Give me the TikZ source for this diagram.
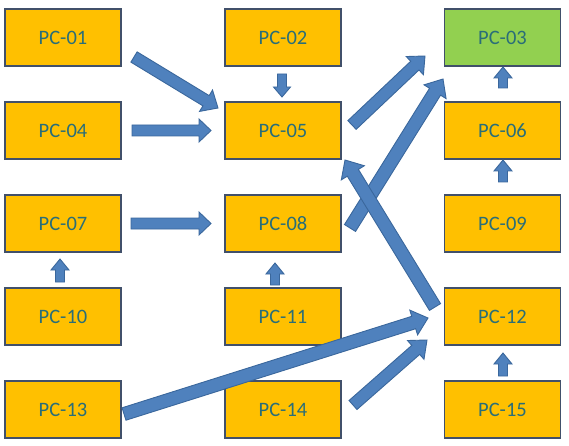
\documentclass[tikz,border=0pt]{standalone}
\usepackage{fontspec}
\setmainfont{Carlito}
\usetikzlibrary{calc}
\definecolor{boxfill}{HTML}{FFC000}
\definecolor{greenfill}{HTML}{92D050}
\definecolor{boxline}{HTML}{41506A}
\definecolor{txt}{HTML}{2A6E78}
\definecolor{arrfill}{HTML}{4F81BD}
\definecolor{arrline}{HTML}{3A679C}
\tikzset{
  pcbox/.style={draw=boxline, fill=boxfill, line width=1.5pt, minimum width=116pt, minimum height=57pt, inner sep=0pt, text=txt, font=\fontsize{20.5}{22}\selectfont},
  greenbox/.style={pcbox, fill=greenfill},
  blockarr/.style={fill=arrfill, draw=arrline, line width=0.9pt, line join=miter}
}
% #1 tail, #2 tip, #3 shaft half width, #4 head half width, #5 head length
\newcommand\blockarrow[5]{%
  \coordinate (ba-h) at ($(#2)!#5!(#1)$);
  \filldraw[blockarr] ($(#1)!#3!90:(#2)$) -- ($(ba-h)!#3!-90:(#1)$) -- ($(ba-h)!#4!-90:(#1)$) -- (#2) -- ($(ba-h)!#4!90:(#1)$) -- ($(ba-h)!#3!90:(#1)$) -- ($(#1)!#3!-90:(#2)$) -- cycle;
}
\begin{document}
\begin{tikzpicture}[x=1pt,y=-1pt]
\useasboundingbox (0,0) rectangle (569,446);
% boxes
\node[pcbox]    (n01) at (63,37.5)   {PC-01};
\node[pcbox]    (n02) at (283,37.5)  {PC-02};
\node[greenbox] (n03) at (502.5,37.5) {PC-03};
\node[pcbox]    (n04) at (63,130.5)  {PC-04};
\node[pcbox]    (n05) at (283,130.5) {PC-05};
\node[pcbox]    (n06) at (502.5,130.5) {PC-06};
\node[pcbox]    (n07) at (63,223.5)  {PC-07};
\node[pcbox]    (n08) at (283,223.5) {PC-08};
\node[pcbox]    (n09) at (502.5,223.5) {PC-09};
\node[pcbox]    (n10) at (63,316.5)  {PC-10};
\node[pcbox]    (n11) at (283,316.5) {PC-11};
\node[pcbox]    (n12) at (502.5,316.5) {PC-12};
\node[pcbox]    (n13) at (63,409.5)  {PC-13};
\node[pcbox]    (n14) at (283,409.5) {PC-14};
\node[pcbox]    (n15) at (502.5,409.5) {PC-15};
% arrow end points
\coordinate (t0105) at (134,57);   \coordinate (h0105) at (218,108);
\coordinate (t0405) at (132,130.5); \coordinate (h0405) at (211,130.5);
\coordinate (t0205) at (282,74);   \coordinate (h0205) at (282,97);
\coordinate (t0503) at (352,125);  \coordinate (h0503) at (425,56);
\coordinate (t0803) at (350,228);  \coordinate (h0803) at (443,79);
\coordinate (t1205) at (435,307);  \coordinate (h1205) at (345,160);
\coordinate (t0708) at (131,223.5); \coordinate (h0708) at (211,223.5);
\coordinate (t1007) at (60,282);   \coordinate (h1007) at (60,259);
\coordinate (t1108) at (275,285);  \coordinate (h1108) at (275,263);
\coordinate (t0603) at (503,88);   \coordinate (h0603) at (503,67);
\coordinate (t0906) at (503,182);  \coordinate (h0906) at (503,160);
\coordinate (t1312) at (124,414);  \coordinate (h1312) at (428,318);
\coordinate (t1412) at (353,405);  \coordinate (h1412) at (427,340);
\coordinate (t1512) at (503,376);  \coordinate (h1512) at (503,353);
% arrows
\blockarrow{t0105}{h0105}{6pt}{12.5pt}{14pt}
\blockarrow{t0405}{h0405}{5.5pt}{11.5pt}{12pt}
\blockarrow{t0205}{h0205}{4.5pt}{8.5pt}{10pt}
\blockarrow{t0503}{h0503}{6pt}{12.5pt}{14pt}
\blockarrow{t0803}{h0803}{6.5pt}{13pt}{15pt}
\blockarrow{t1205}{h1205}{6.5pt}{13.5pt}{15pt}
\blockarrow{t0708}{h0708}{5.5pt}{11.5pt}{12pt}
\blockarrow{t1007}{h1007}{4.5pt}{9pt}{11pt}
\blockarrow{t1108}{h1108}{4.5pt}{9pt}{11pt}
\blockarrow{t0603}{h0603}{4.5pt}{9pt}{11pt}
\blockarrow{t0906}{h0906}{4.5pt}{9pt}{11pt}
\blockarrow{t1312}{h1312}{6.5pt}{13pt}{15pt}
\blockarrow{t1412}{h1412}{6pt}{12.5pt}{15pt}
\blockarrow{t1512}{h1512}{4.5pt}{9pt}{11pt}
\end{tikzpicture}
\end{document}
